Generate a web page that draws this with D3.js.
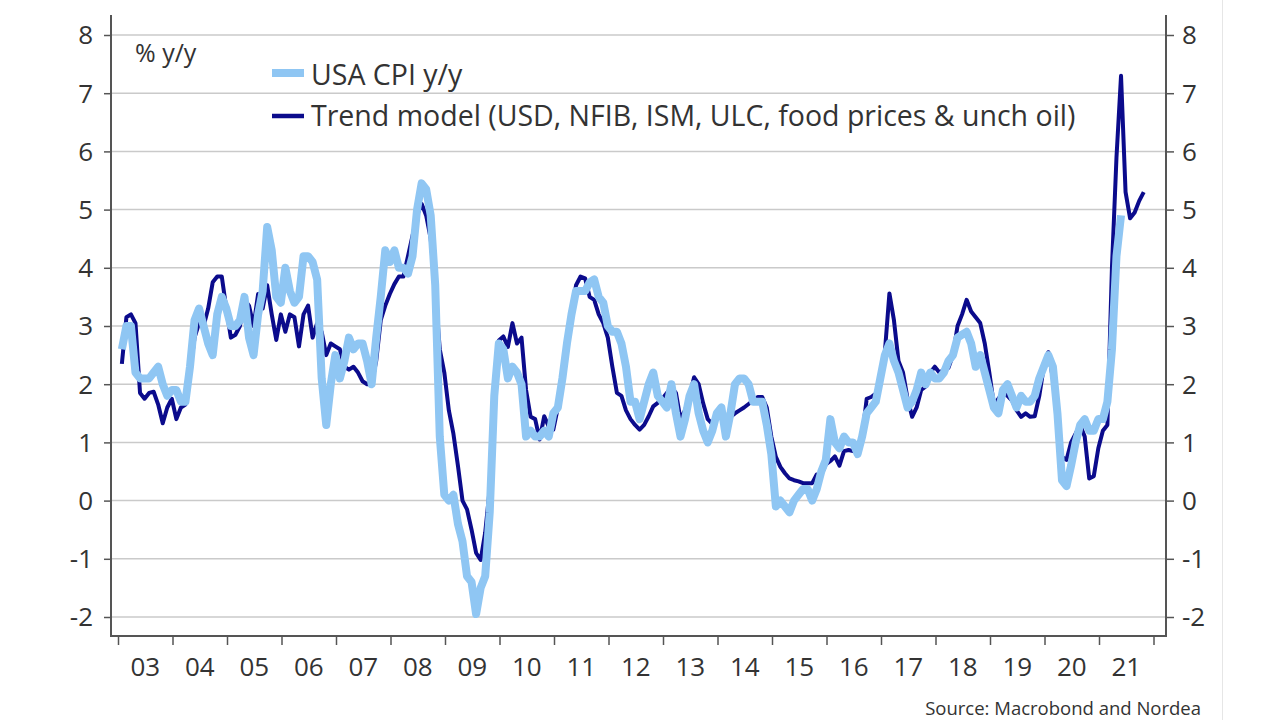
<!DOCTYPE html>
<html><head><meta charset="utf-8">
<script src="https://cdn.jsdelivr.net/npm/d3@7"></script>
<style>
html,body{margin:0;padding:0;background:#fff;}
svg{display:block;}
text{font-family:"Open Sans","Noto Sans",sans-serif;fill:#333;}
</style></head>
<body><svg id="chart" width="1280" height="720"></svg>
<script>
// ---- data (monthly, from Jan 2003) ----
const startYear = 2003;
const yearLabels = ["03","04","05","06","07","08","09","10","11","12","13","14","15","16","17","18","19","20","21"];
const yTicks = [-2,-1,0,1,2,3,4,5,6,7,8];
const seriesNames = ["USA CPI y/y","Trend model (USD, NFIB, ISM, ULC, food prices & unch oil)"];
const cpiValues = [
 2.6,3.0,3.0,2.2,2.1,2.1,2.1,2.2,2.3,2.0,1.8,1.9,
 1.9,1.7,1.7,2.3,3.1,3.3,3.0,2.7,2.5,3.2,3.5,3.3,
 3.0,3.0,3.1,3.5,2.8,2.5,3.2,3.6,4.7,4.3,3.5,3.4,
 4.0,3.6,3.4,3.5,4.2,4.2,4.1,3.8,2.1,1.3,2.0,2.5,
 2.1,2.4,2.8,2.6,2.7,2.7,2.4,2.0,2.8,3.5,4.3,4.1,
 4.3,4.0,4.0,3.9,4.2,5.0,5.45,5.35,4.9,3.7,1.1,0.1,
 0.0,0.1,-0.4,-0.7,-1.3,-1.4,-1.95,-1.5,-1.3,-0.2,1.8,2.7,
 2.6,2.1,2.3,2.2,2.0,1.1,1.2,1.1,1.1,1.2,1.1,1.5,
 1.6,2.1,2.7,3.2,3.6,3.6,3.6,3.75,3.8,3.5,3.4,3.0,
 2.9,2.9,2.7,2.3,1.7,1.7,1.4,1.7,2.0,2.2,1.8,1.7,
 1.6,2.0,1.5,1.1,1.4,1.8,2.0,1.5,1.2,1.0,1.2,1.5,
 1.6,1.1,1.5,2.0,2.1,2.1,2.0,1.7,1.7,1.7,1.3,0.8,
 -0.1,0.0,-0.1,-0.2,0.0,0.1,0.2,0.2,0.0,0.2,0.5,0.7,
 1.4,1.0,0.9,1.1,1.0,1.0,0.8,1.1,1.5,1.6,1.7,2.1,
 2.5,2.7,2.4,2.2,1.9,1.6,1.7,1.9,2.2,2.0,2.2,2.1,
 2.1,2.2,2.4,2.5,2.8,2.85,2.9,2.7,2.3,2.5,2.2,1.9,
 1.6,1.5,1.9,2.0,1.8,1.6,1.8,1.7,1.7,1.8,2.1,2.3,
 2.5,2.3,1.5,0.35,0.25,0.6,1.0,1.3,1.4,1.2,1.2,1.4,
 1.4,1.7,2.6,4.2,4.9
];
const trendValues = [
 2.35,3.15,3.2,3.05,1.85,1.75,1.85,1.87,1.65,1.33,1.6,1.75,
 1.4,1.6,1.65,2.2,2.8,3.05,3.0,3.3,3.75,3.85,3.85,3.3,
 2.8,2.85,3.0,3.45,3.35,3.0,3.55,3.3,3.7,3.2,2.76,3.2,
 2.9,3.2,3.15,2.65,3.2,3.35,2.8,3.05,2.9,2.5,2.7,2.65,
 2.6,2.3,2.25,2.3,2.2,2.05,2.0,2.0,2.4,3.1,3.35,3.55,
 3.72,3.85,3.85,4.2,4.55,4.9,5.1,4.9,4.5,3.6,2.6,2.2,
 1.55,1.15,0.6,0.0,-0.15,-0.5,-0.9,-1.02,-0.55,0.2,1.9,2.75,
 2.82,2.64,3.05,2.7,2.8,1.9,1.44,1.4,1.05,1.45,1.27,1.22,
 1.6,2.1,2.7,3.2,3.7,3.85,3.82,3.5,3.45,3.2,3.05,2.8,
 2.3,1.85,1.8,1.55,1.4,1.3,1.22,1.3,1.45,1.62,1.68,1.75,
 1.85,1.95,1.85,1.4,1.55,1.8,2.12,2.0,1.67,1.4,1.32,1.44,
 1.42,1.42,1.44,1.5,1.55,1.6,1.66,1.72,1.78,1.78,1.6,1.1,
 0.75,0.58,0.47,0.38,0.35,0.33,0.3,0.3,0.3,0.45,0.45,0.62,
 0.68,0.76,0.6,0.85,0.87,0.85,0.9,1.1,1.75,1.78,1.84,2.0,
 2.55,3.56,3.1,2.4,2.2,1.75,1.44,1.6,1.9,1.96,2.2,2.3,
 2.2,2.25,2.28,2.5,3.0,3.2,3.45,3.25,3.15,3.05,2.7,2.2,
 1.65,1.75,1.85,1.8,1.72,1.55,1.44,1.5,1.44,1.45,1.8,2.3,
 2.55,2.1,1.5,0.75,0.7,1.0,1.15,1.3,1.1,0.38,0.42,0.9,
 1.2,1.3,4.0,5.9,7.3,5.3,4.85,4.95,5.15,5.3
];
const sourceText = "Source: Macrobond and Nordea";
const unitText = "% y/y";

// ---- chart ----
const svg = d3.select("#chart");
const plot = {left:111, right:1166, top:15, bottom:636};
const x = d3.scaleLinear().domain([2003, 2022]).range([118, 1153.5]);
const y = d3.scaleLinear().domain([-2, 8]).range([617, 35]);
const lightCol = "#8fc6f3", darkCol = "#0b0b8c", axisCol = "#555", gridCol = "#cacaca";
const fontStack = "'Open Sans','Noto Sans',sans-serif";

const tOf = i => startYear + (i + 0.85) / 12;
const cpi = cpiValues.map((v,i)=>({t:tOf(i), v}));
const trend = trendValues.map((v,i)=>({t:tOf(i), v}));

// image edge line
svg.append("line").attr("x1",1222.5).attr("x2",1222.5).attr("y1",0).attr("y2",720)
  .attr("stroke","#e6e6e6").attr("stroke-width",1);

// gridlines
svg.append("g").selectAll("line").data(yTicks).join("line")
  .attr("x1",plot.left).attr("x2",plot.right)
  .attr("y1",d=>y(d)).attr("y2",d=>y(d))
  .attr("stroke",gridCol).attr("stroke-width",1.5);

// lines
const line = d3.line().x(d=>x(d.t)).y(d=>y(d.v));
svg.append("path").datum(trend).attr("d",line).attr("fill","none")
  .attr("stroke",darkCol).attr("stroke-width",4).attr("stroke-linejoin","round");
svg.append("path").datum(cpi).attr("d",line).attr("fill","none")
  .attr("stroke",lightCol).attr("stroke-width",8).attr("stroke-linejoin","round");

// axes
const tickFont = 26;
const yL = svg.append("g").attr("transform",`translate(${plot.left},0)`)
  .call(d3.axisLeft(y).tickValues(yTicks).tickSize(7).tickPadding(11).tickFormat(d=>String(d)));
const yR = svg.append("g").attr("transform",`translate(${plot.right},0)`)
  .call(d3.axisRight(y).tickValues(yTicks).tickSize(8).tickPadding(8).tickFormat(d=>String(d)));
[yL,yR].forEach(g=>{
  g.select(".domain").remove();
  g.selectAll(".tick line").attr("stroke",axisCol).attr("stroke-width",1.5);
  g.selectAll("text").attr("font-size",tickFont).attr("fill","#333")
    .attr("font-family",fontStack).attr("dy","0.34em");
});
// frame lines (left, right, bottom)
svg.append("path").attr("d",`M${plot.left},${plot.top}V${plot.bottom}H${plot.right}V${plot.top}`)
  .attr("fill","none").attr("stroke",axisCol).attr("stroke-width",2);

// x axis ticks at year boundaries, labels mid-year
const yearTicks = d3.range(2003, 2023);
const xg = svg.append("g").attr("transform",`translate(0,${plot.bottom})`)
  .call(d3.axisBottom(x).tickValues(yearTicks).tickSize(9).tickFormat(""));
xg.select(".domain").remove();
xg.selectAll(".tick line").attr("stroke",axisCol).attr("stroke-width",1.5);
svg.append("g").selectAll("text").data(yearLabels).join("text")
  .attr("x",(d,i)=>x(startYear+i+0.5)).attr("y",676)
  .attr("text-anchor","middle").attr("font-size",tickFont).text(d=>d);

// unit label
svg.append("text").attr("x",135).attr("y",62).attr("font-size",25).text(unitText);

// legend
const leg = svg.append("g");
leg.append("line").attr("x1",272).attr("x2",304).attr("y1",73).attr("y2",73)
  .attr("stroke",lightCol).attr("stroke-width",8);
leg.append("text").attr("x",311).attr("y",85).attr("font-size",28.5).text(seriesNames[0]);
leg.append("line").attr("x1",272).attr("x2",304).attr("y1",116).attr("y2",116)
  .attr("stroke",darkCol).attr("stroke-width",4.5);
leg.append("text").attr("x",311).attr("y",126).attr("font-size",28.5).text(seriesNames[1]);

// source
svg.append("text").attr("x",1201).attr("y",715).attr("text-anchor","end")
  .attr("font-size",18.5).attr("fill","#333").text(sourceText);
</script></body></html>
